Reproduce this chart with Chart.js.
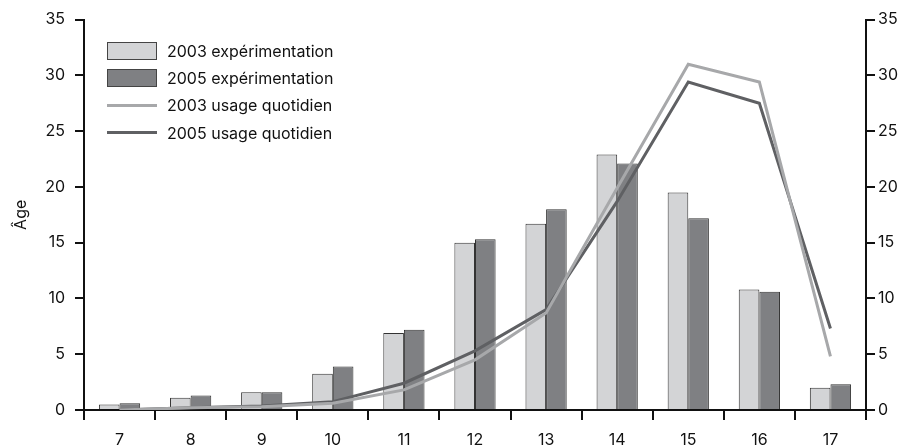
<!DOCTYPE html>
<html lang="fr">
<head>
  <meta charset="UTF-8" />
  <title>Âge</title>
  <script src="https://cdn.jsdelivr.net/npm/chart.js"></script>
  <style>
    html, body { margin: 0; padding: 0; background: #fff; }
    #wrap { position: relative; width: 906px; height: 445px; }
    #legende { position: absolute; left: 107px; top: 33px; font-family: Inter, "Liberation Sans", Arial, sans-serif; font-size: 16px; color: #111; }
    .item { display: flex; align-items: center; height: 35.3px; margin-top: -8px; }
    .item:first-child { margin-top: 0; }
    .boite { width: 48px; height: 16px; border: 1px solid #444; margin-right: 10px; }
    .trait { width: 50px; height: 3px; margin-right: 10px; }
  </style>
</head>
<body>
  <div id="wrap">
    <canvas id="graphique" width="906" height="445"></canvas>
    <div id="legende"></div>
  </div>

  <script>
    // données
    var ages = ["7", "8", "9", "10", "11", "12", "13", "14", "15", "16", "17"];
    var experimentation2003 = [0.5, 1.1, 1.6, 3.25, 6.9, 15.0, 16.7, 22.9, 19.5, 10.8, 2.0];
    var experimentation2005 = [0.6, 1.3, 1.6, 3.9, 7.2, 15.3, 18.0, 22.1, 17.2, 10.6, 2.3];
    var quotidien2003 = [0.0, 0.2, 0.3, 0.6, 1.8, 4.5, 8.7, 19.9, 31.0, 29.4, 4.8];
    var quotidien2005 = [0.0, 0.2, 0.35, 0.75, 2.4, 5.3, 9.0, 18.7, 29.4, 27.5, 7.3];
    var graduations = [0, 5, 10, 15, 20, 25, 30, 35];

    var gris1 = '#d3d4d6';
    var gris2 = '#7f8083';
    var ligne1 = '#a7a8aa';
    var ligne2 = '#5f6063';

    var legende = [
      { txt: '2003 expérimentation', type: 'boite', couleur: gris1 },
      { txt: '2005 expérimentation', type: 'boite', couleur: gris2 },
      { txt: '2003 usage quotidien', type: 'trait', couleur: ligne1 },
      { txt: '2005 usage quotidien', type: 'trait', couleur: ligne2 }
    ];

    var html = '';
    for (var i = 0; i < legende.length; i++) {
      var l = legende[i];
      html += `<div class="item"><div class="${l.type}" style="background:${l.couleur}"></div><span>${l.txt}</span></div>`;
    }
    document.getElementById('legende').innerHTML = html;

    var police = { family: 'Inter, "Liberation Sans", Arial, sans-serif', size: 16 };

    function axeY(position, largeur, ecart) {
      return {
        position: position,
        min: 0,
        max: 35,
        afterBuildTicks: function (axe) {
          axe.ticks = graduations.map(function (v) { return { value: v }; });
        },
        afterFit: function (axe) { axe.width = largeur; },
        border: { display: true, color: '#111', width: 2 },
        grid: { drawOnChartArea: false, drawTicks: true, tickLength: 9, color: '#111', lineWidth: 2 },
        ticks: { color: '#111', font: police, padding: ecart }
      };
    }

    var echelleGauche = axeY('left', 84, 10);
    echelleGauche.title = { display: true, text: 'Âge', color: '#111', font: police, padding: { top: 12, bottom: 0 } };
    var echelleDroite = axeY('right', 40, 3);

    var config = {
      type: 'bar',
      data: {
        labels: ages,
        datasets: [
          { type: 'line', label: '2003 usage quotidien', data: quotidien2003, borderColor: ligne1, borderWidth: 3, pointRadius: 0, tension: 0, order: 0, yAxisID: 'y' },
          { type: 'line', label: '2005 usage quotidien', data: quotidien2005, borderColor: ligne2, borderWidth: 3, pointRadius: 0, tension: 0, order: 0, yAxisID: 'y' },
          { label: '2003 expérimentation', data: experimentation2003, backgroundColor: gris1, borderColor: '#333', borderWidth: 1, order: 1, yAxisID: 'y' },
          { label: '2005 expérimentation', data: experimentation2005, backgroundColor: gris2, borderColor: '#333', borderWidth: 1, order: 1, yAxisID: 'y' }
        ]
      },
      options: {
        responsive: false,
        animation: false,
        layout: { padding: { top: 19, left: 0, right: 0, bottom: 0 } },
        datasets: { bar: { barPercentage: 1, categoryPercentage: 0.58 } },
        plugins: { legend: { display: false }, tooltip: { enabled: false } },
        scales: {
          x: {
            offset: true,
            afterFit: function (axe) { axe.height = 35; },
            border: { display: true, color: '#111', width: 2 },
            grid: { offset: true, drawOnChartArea: false, drawTicks: true, tickLength: 10, color: '#111', lineWidth: 2 },
            ticks: { color: '#111', font: police, padding: 11, maxRotation: 0 }
          },
          y: echelleGauche,
          y2: echelleDroite
        }
      }
    };

    new Chart(document.getElementById('graphique'), config);
  </script>
</body>
</html>
